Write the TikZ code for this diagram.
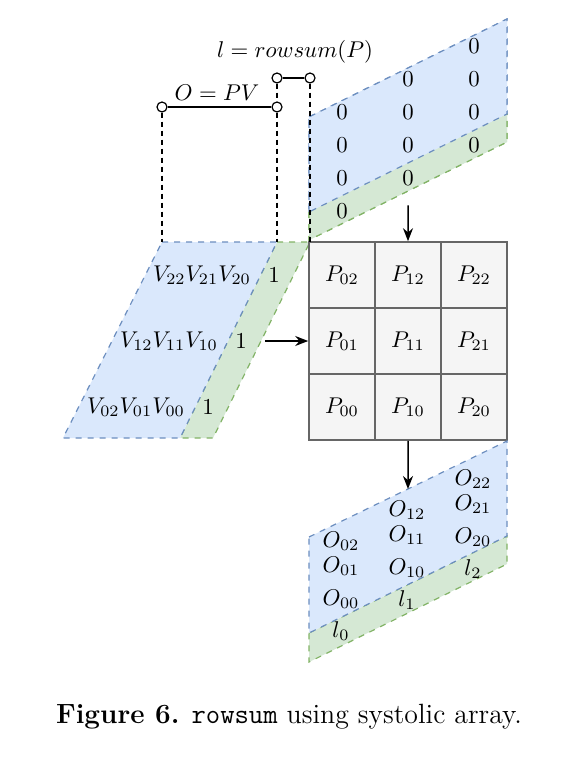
\documentclass[tikz,border=0pt]{standalone}
\usepackage{amsmath}
\usetikzlibrary{arrows.meta}
\usetikzlibrary{math}
\definecolor{pvfill}{HTML}{DAE8FC}
\definecolor{pvline}{HTML}{6C8EBF}
\definecolor{lfill}{HTML}{D5E8D4}
\definecolor{lline}{HTML}{82B366}
\definecolor{cellfill}{HTML}{F5F5F5}
\definecolor{cellline}{HTML}{666666}
\tikzset{
  txt/.style={scale=1.14},
  blueband/.style={fill=pvfill, draw=pvline, dashed, line width=0.6pt},
  greenband/.style={fill=lfill, draw=lline, dashed, line width=0.6pt},
  cell/.style={draw=cellline, fill=cellfill, line width=0.8pt/1.14, minimum size=33pt/1.14, inner sep=0pt},
  port/.style={circle, draw, fill=white, line width=0.6pt, inner sep=0pt, minimum size=5pt},
  guide/.style={dashed, line width=0.6pt, dash pattern=on 2.5pt off 2pt},
  flow/.style={-{Stealth[length=6.5pt,width=5pt]}, line width=0.75pt}
}

\begin{document}
\begin{tikzpicture}[x=0.5pt,y=-0.5pt]
\tikzmath{
\w=198;
\d=33;
}
\useasboundingbox (0,0) rectangle (573,765);

% zeros coming in from the top
\fill[greenband] (309,212) -- (507,114) -- (507,142) -- (309,240) -- cycle;
\fill[blueband] (309,117) -- (507,19) -- (507,114) -- (309,212) -- cycle;
\draw[greenband] (309,212) -- (309,240) -- (507,142) -- (507,114);
\draw[blueband] (309,212) -- (309,117) -- (507,19) -- (507,114) -- cycle;
\foreach \c in {0,1,2}
  \foreach \r in {0,...,3}
    \node[txt] (z\c\r) at ({342+66*\c},{112+\d*\r-\d*\c}) {$0$};

% V and the ones from the left
\draw[greenband] (277,242) -- (310,242) -- (213,438) -- (180,438) -- cycle;
\draw[blueband] (162,242) -- (277,242) -- (180,438) -- (63,438) -- cycle;
\foreach \r/\y in {0/407,1/341,2/275}{
  \node[txt] (v\r) at ({136+\d*\r},\y) {$V_{\r2}V_{\r1}V_{\r0}$};
  \node[txt] (one\r) at ({208+\d*\r},\y) {$1$};
}

% systolic array
\foreach \i in {0,1,2}
  \foreach \j in {0,1,2}
    \node[txt, cell] (p\i\j) at ({342+66*\i},{407-66*\j}) {$P_{\i\j}$};

% outputs
\draw[greenband] (309,633) -- (507,536) -- (507,564) -- (309,662) -- cycle;
\draw[blueband] (309,537) -- (507,441) -- (507,536) -- (309,633) -- cycle;
\foreach \c in {0,1,2}{
  \node[txt] (o\c2) at (341+66*\c,541-31*\c) {$O_{\c2}$};
  \node[txt] (o\c1) at (341+66*\c,566-31*\c) {$O_{\c1}$};
  \node[txt] (o\c0) at (341+66*\c,599-31*\c) {$O_{\c0}$};
  \node[txt] (l\c) at (341+66*\c,631-31*\c) {$l_{\c}$};
}

% brackets
\coordinate (vtl) at (162,242);
\coordinate (vtm) at (277,242);
\coordinate (vtr) at (310,242);
\node[port] (opvl) at (162,107) {};
\node[port] (opvr) at (277,107) {};
\node[port] (lrsl) at (277,78) {};
\node[port] (lrsr) at (310,78) {};
\draw[guide] (opvl) -- (vtl);
\draw[guide] (opvr) -- (vtm);
\draw[guide] (lrsl) -- (opvr);
\draw[guide] (lrsr) -- (vtr);
\draw[line width=0.75pt] (opvl) -- (opvr);
\draw[line width=0.75pt] (lrsl) -- (lrsr);
\node[txt] (opvlab) at (217,93) {$O = PV$};
\node[txt] (lrslab) at (295,52) {$l = rowsum(P)$};

% data flow
\coordinate (oin) at (p10.south |- 0,489);
\draw[flow, shorten <=6pt] (z13) -- (p12);
\draw[flow, shorten <=5pt] (one1) -- (p01);
\draw[flow] (p10) -- (oin);

\node[scale=1.16, font=\large] (cap) at (289,717) {\textbf{Figure 6.} \texttt{rowsum} using systolic array.};
\end{tikzpicture}
\end{document}
